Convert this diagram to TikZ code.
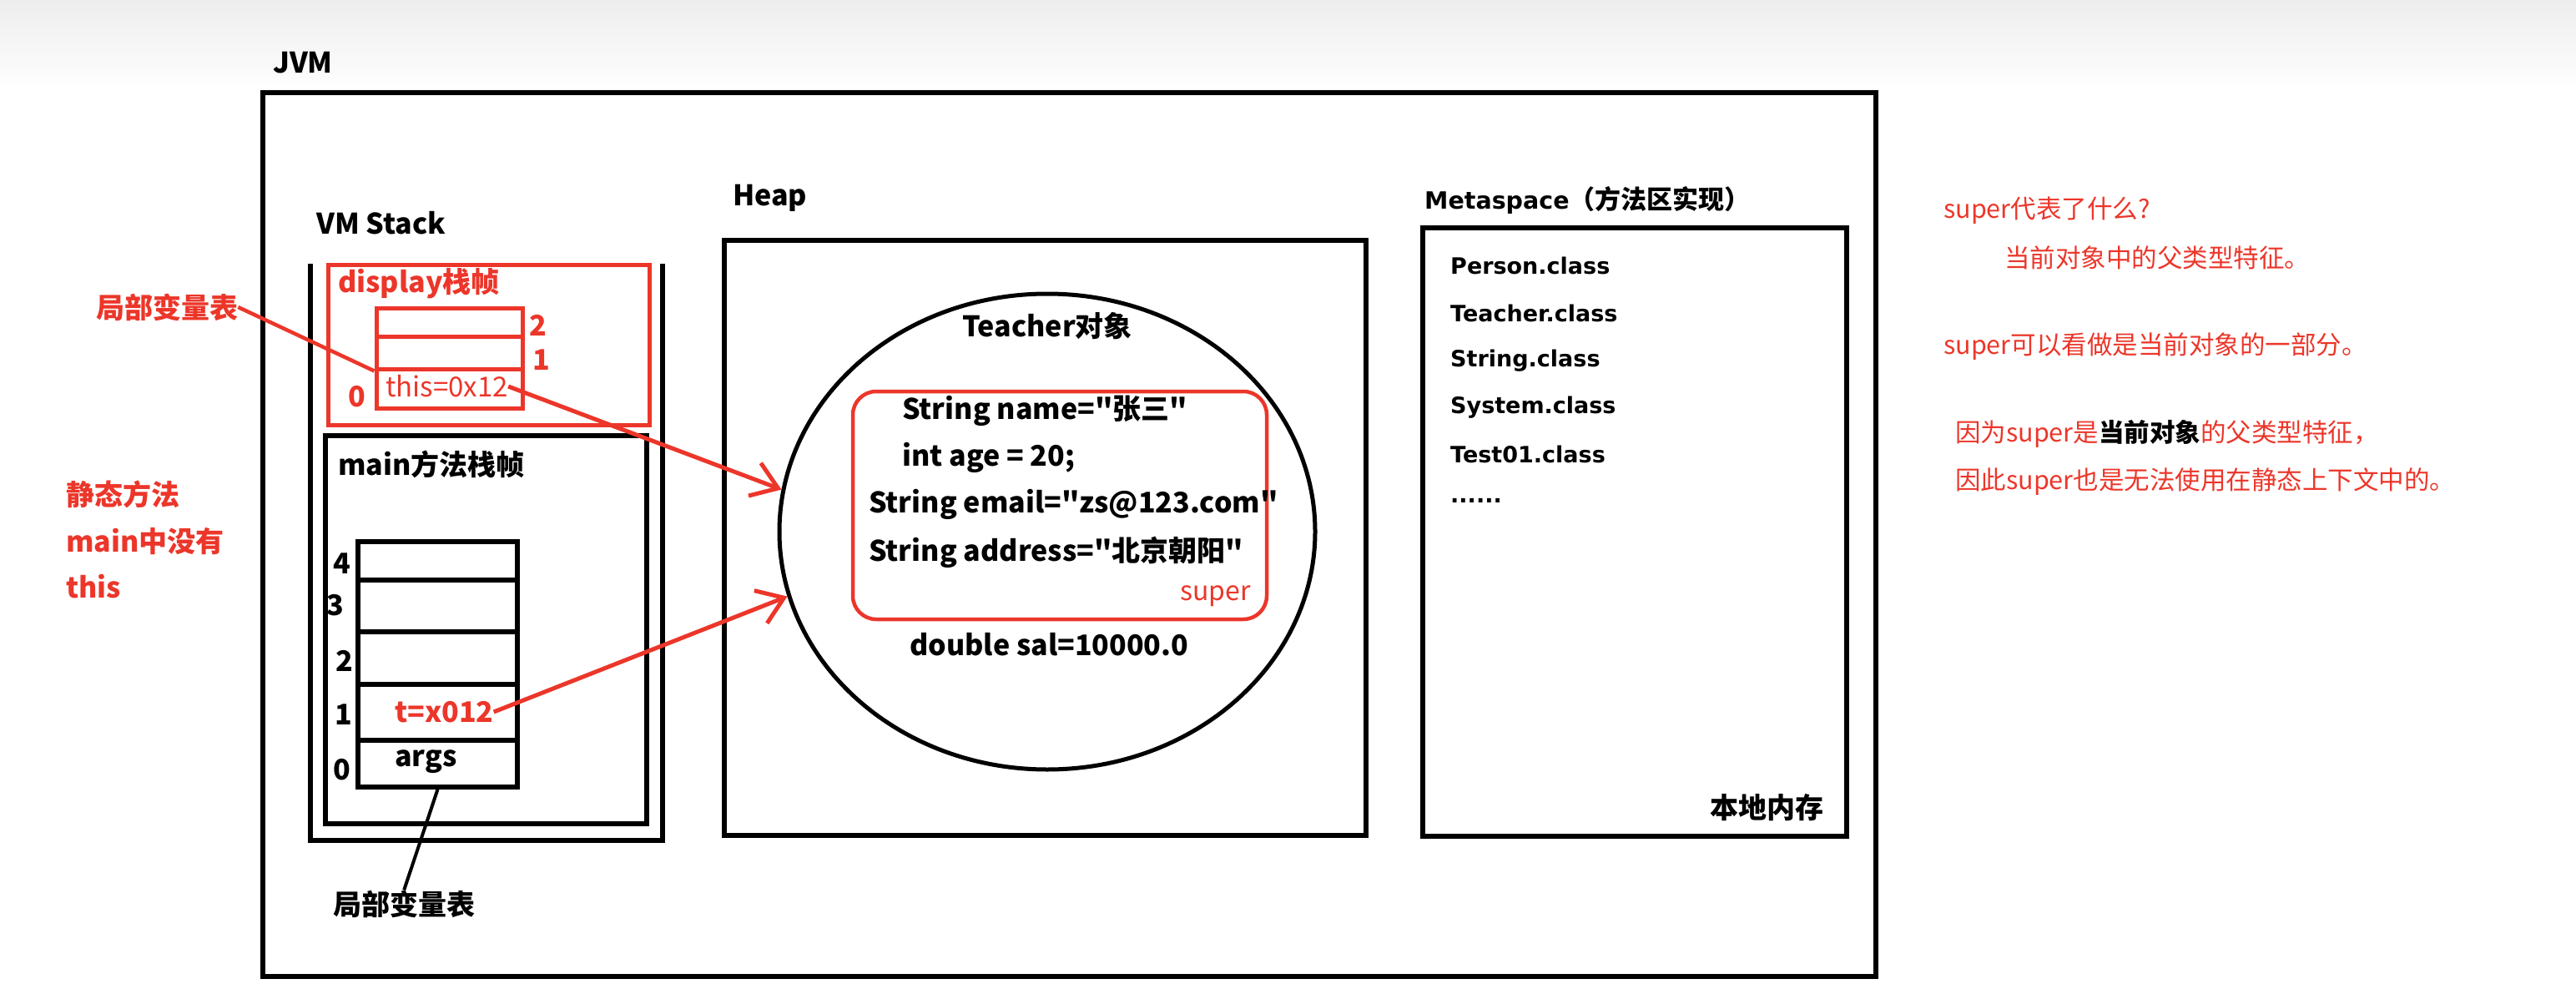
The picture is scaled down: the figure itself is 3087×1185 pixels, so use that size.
\documentclass[tikz,border=0pt]{standalone}
\usepackage{fontspec}
\newfontfamily\hanfont{Noto Sans CJK SC}
\newfontfamily\metafont{DejaVu Sans}
\usetikzlibrary{shapes.geometric,arrows.meta}
\definecolor{hred}{RGB}{236,54,42}

\begin{document}
\begin{tikzpicture}[x=1pt, y=-1pt,
		lbl/.style={font={\hanfont\fontsize{34}{40}\selectfont\bfseries}, inner sep=0pt, anchor=west},
		rlbl/.style={lbl, text=hred},
		idx/.style={lbl, anchor=center},
		meta/.style={font={\fontsize{27}{32}\selectfont\metafont\bfseries}, inner sep=0pt, anchor=west},
		note/.style={font={\hanfont\fontsize{30.5}{36}\selectfont}, text=hred, inner sep=0pt, anchor=west},
		box/.style={draw, line width=5.5pt},
		rbox/.style={draw=hred, line width=5pt},
		slot/.style={draw, line width=5.5pt, minimum width=191pt, inner sep=0pt},
		rslot/.style={slot, draw=hred, line width=5pt, minimum width=175pt},
		ref/.style={draw=hred, line width=5pt, -{Straight Barb[length=30pt, width=42pt]}}]
	\useasboundingbox (0,0) rectangle (3087,1185);
	\shade[top color=black!7, bottom color=white] (0,0) rectangle (3087,110);
	% JVM
	\node[lbl] (jvm) at (327,75) {JVM};
	\draw[box] (315,111) rectangle (2248,1170);
	% VM Stack
	\node[lbl] (stack) at (379,267) {VM Stack};
	\draw[box] (372,316) -- (372,1007) -- (794,1007) -- (794,316);
	% display栈帧
	\draw[rbox] (393,317) rectangle (778,509);
	\node[rlbl] (disp) at (405,340) {display栈帧};
	\foreach \i/\t/\b in {2/369/403, 1/403/442, 0/442/489}{
		\node[rslot, minimum height={(\b-\t)*1pt}] (d\i) at (538.5,{(\t+\b)/2}) {};
	}
	\foreach \i/\x/\y in {2/645/390, 1/649/431, 0/428/475}{
		\node[idx, text=hred] (di\i) at (\x,\y) {\i};
	}
	\node[rlbl, font={\hanfont\fontsize{33}{40}\selectfont}] (this) at (462,463) {this=0x12};
	\node[rlbl] (lvtd) at (115,368) {局部变量表};
	\draw[hred, line width=4.5pt] (lvtd.east) -- (d1.south west);
	% main方法栈帧
	\draw[box] (390,522) rectangle (775,987);
	\node[lbl] (mainf) at (405,556) {main方法栈帧};
	\foreach \i/\t/\b in {4/649/695, 3/695/757, 2/757/820, 1/820/887, 0/887/943}{
		\node[slot, minimum height={(\b-\t)*1pt}] (m\i) at (524.5,{(\t+\b)/2}) {};
	}
	\foreach \i/\x/\y in {4/410/675, 3/402/725, 2/413/792, 1/412/856, 0/410/922}{
		\node[idx] (mi\i) at (\x,\y) {\i};
	}
	\node[rlbl] (tref) at (473,853) {t=x012};
	\node[lbl] (args) at (473,913) {args};
	\node[lbl] (lvtm) at (399,1083) {局部变量表};
	\draw[line width=4pt] (m0.south) -- (lvtm.north);
	% 静态方法
	\foreach \y/\txt in {592/静态方法, 649/main中没有, 703/this}{
		\node[rlbl] at (79,\y) {\txt};
	}
	% Heap
	\node[lbl] (heap) at (878,237) {Heap};
	\draw[box] (868,288) rectangle (1637,1001);
	\node[draw, ellipse, line width=5pt, minimum width=642pt, minimum height=570pt, inner sep=0pt] (teacher) at (1255,637) {};
	\node[lbl, anchor=center] (tname) at (1255,391) {Teacher对象};
	\draw[rbox, line width=4.5pt, rounded corners=28pt] (1022,469) rectangle (1518,742);
	\node[lbl] (f1) at (1081,492) {String name="张三"};
	\node[lbl] (f2) at (1081,548) {int age = 20;};
	\node[lbl] (f3) at (1041,604) {String email="zs@123.com"};
	\node[lbl] (f4) at (1041,662) {String address="北京朝阳"};
	\node[rlbl, font={\hanfont\fontsize{32}{40}\selectfont}, anchor=east] (sup) at (1499,714) {super};
	\node[lbl] (f5) at (1090,772) {double sal=10000.0};
	% 引用
	\draw[ref] (this.east) -- (teacher.171);
	\draw[ref] (tref.east) -- (teacher.194);
	% Metaspace
	\node[lbl, font={\hanfont\fontsize{31}{40}\selectfont\bfseries}] (metat) at (1707,240) {{\metafont\fontsize{28.5}{40}\selectfont Metaspace}（方法区实现）};
	\draw[box] (1705,273) rectangle (2213,1002);
	\foreach \y/\txt in {318/Person.class, 375/Teacher.class, 432/String.class, 488/System.class, 544/Test01.class}{
		\node[meta] at (1738,\y) {\txt};
	}
	\node[meta] (more) at (1738,600) {......};
	\node[lbl, anchor=east] (native) at (2186,968) {本地内存};
	% 右侧说明
	\node[note] (n1) at (2329,252) {super代表了什么?};
	\node[note] (n2) at (2402,309) {当前对象中的父类型特征。};
	\node[note] (n3) at (2329,415) {super可以看做是当前对象的一部分。};
	\node[note] (n4) at (2343,520) {因为super是{\color{black}\bfseries 当前对象}的父类型特征，};
	\node[note] (n5) at (2343,577) {因此super也是无法使用在静态上下文中的。};
\end{tikzpicture}
\end{document}
